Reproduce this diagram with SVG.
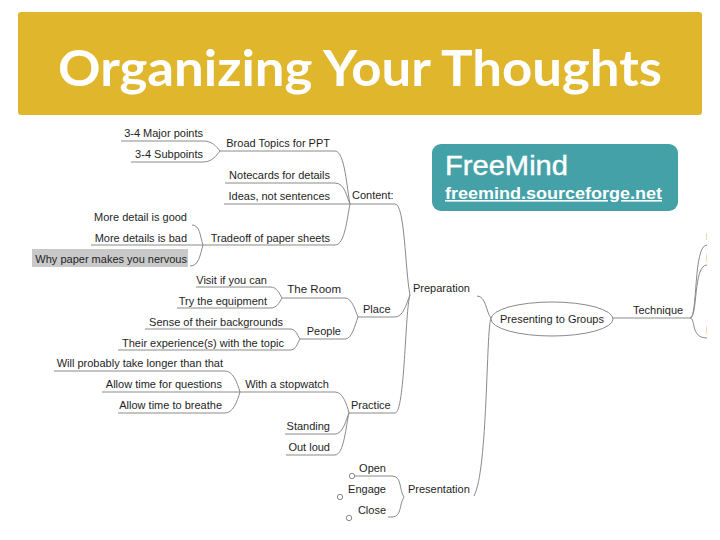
<svg xmlns="http://www.w3.org/2000/svg" width="720" height="540" viewBox="0 0 720 540">
<style>
text{font-family:"Liberation Sans",Arial,sans-serif;font-size:11px;fill:#1e1e1e}
.r{text-anchor:end}
.c{fill:none;stroke:#8a8a8a;stroke-width:1}
.d{fill:#fff;stroke:#8a8a8a;stroke-width:1}
.m{fill:#f3dcb0}
</style>
<rect width="720" height="540" fill="#fff"/>
<g id="title"><rect x="18" y="12" width="684" height="103" rx="3" fill="#dfb62c"/>
<text x="360" y="86" text-anchor="middle" style="font-family:Lato,'Open Sans',sans-serif;font-size:50px;font-weight:700;fill:#fff" textLength="604" lengthAdjust="spacingAndGlyphs">Organizing Your Thoughts</text></g>
<g id="callout"><rect x="432" y="144" width="246" height="67" rx="9" fill="#45a1a8"/>
<text x="445" y="175" style="font-size:27px;fill:#fff;stroke:#fff;stroke-width:.4" textLength="123" lengthAdjust="spacingAndGlyphs">FreeMind</text>
<text x="445" y="199" style="font-size:16px;font-weight:700;fill:#fff;text-decoration:underline" textLength="217" lengthAdjust="spacingAndGlyphs">freemind.sourceforge.net</text></g>
<g id="connectors">
<path class="c" d="M121 141H203C212 141 216 146 220 151C216 156 212 162 203 162H131"/>
<path class="c" d="M220 151H335C345 151 347 190 350 204C347 218 345 245 335 245H203"/>
<path class="c" d="M225 183H335C345 183 347 198 350 204H224"/>
<path class="c" d="M192 225C200 225 200 236 203 245C200 255 199 266 190 266"/>
<path class="c" d="M91 245H203"/>
<path class="c" d="M350 204H395C405 204 405 270 410 295C405 310 405 413 395 413H349"/>
<path class="c" d="M196 287H270C277 287 279 293 282 298C279 303 277 308 270 308H177"/>
<path class="c" d="M282 298H345C352 298 355 310 358 317C355 325 352 339 345 339H300"/>
<path class="c" d="M145 329H290C296 329 297 335 300 339C297 344 296 350 290 350H118"/>
<path class="c" d="M358 317H395C403 317 406 305 410 295"/>
<path class="c" d="M54 371H225C233 371 237 382 240 392C237 402 233 413 225 413H118"/>
<path class="c" d="M102 392H335C343 392 347 405 349 413"/>
<path class="c" d="M285 434H335C343 434 346 420 349 413C346 425 344 455 335 455H286"/>
<path class="c" d="M352 476H392C402 476 399 490 404 497C399 504 402 517 392 517H388"/>
<path class="c" d="M477 296C486 296 486 312 491 318C486 330 488 470 474 496"/>
<path class="c" d="M612 318H690C698 318 693 245 707 245"/>
<path class="c" d="M690 318C698 318 693 265 707 265"/>
<path class="c" d="M690 318C696 318 690 338 707 338"/>
</g>
<g id="n-major"><text class="r" x="203" y="137">3-4 Major points</text></g>
<g id="n-sub"><text class="r" x="203" y="158">3-4 Subpoints</text></g>
<g id="n-broad"><text class="r" x="330" y="147">Broad Topics for PPT</text></g>
<g id="n-note"><text class="r" x="330" y="179">Notecards for details</text></g>
<g id="n-ideas"><text class="r" x="330" y="200">Ideas, not sentences</text></g>
<g id="n-content"><text x="352" y="199">Content:</text></g>
<g id="n-good"><text class="r" x="187" y="221">More detail is good</text></g>
<g id="n-bad"><text class="r" x="187" y="242">More details is bad</text></g>
<g id="n-why"><rect x="32" y="249" width="156" height="18" fill="#c9c9c9"/><text class="r" x="187" y="263">Why paper makes you nervous</text></g>
<g id="n-trade"><text class="r" x="330" y="242">Tradeoff of paper sheets</text></g>
<g id="n-visit"><text class="r" x="267" y="284">Visit if you can</text></g>
<g id="n-try"><text class="r" x="267" y="305">Try the equipment</text></g>
<g id="n-room"><text class="r" x="341" y="293" style="font-size:11.5px">The Room</text></g>
<g id="n-sense"><text class="r" x="283" y="326">Sense of their backgrounds</text></g>
<g id="n-exp"><text class="r" x="284" y="347">Their experience(s) with the topic</text></g>
<g id="n-people"><text class="r" x="341" y="335">People</text></g>
<g id="n-place"><text x="363" y="313">Place</text></g>
<g id="n-will"><text class="r" x="223" y="367">Will probably take longer than that</text></g>
<g id="n-aq"><text class="r" x="222" y="388">Allow time for questions</text></g>
<g id="n-ab"><text class="r" x="222" y="409">Allow time to breathe</text></g>
<g id="n-watch"><text class="r" x="329" y="388">With a stopwatch</text></g>
<g id="n-practice"><text x="351" y="409">Practice</text></g>
<g id="n-stand"><text class="r" x="330" y="430">Standing</text></g>
<g id="n-loud"><text class="r" x="330" y="451">Out loud</text></g>
<g id="n-open"><text class="r" x="386" y="472">Open</text><circle class="d" cx="352" cy="476" r="2.7"/></g>
<g id="n-engage"><text class="r" x="386" y="493">Engage</text><circle class="d" cx="340" cy="497" r="2.7"/></g>
<g id="n-close"><text class="r" x="386" y="514">Close</text><circle class="d" cx="349" cy="518" r="2.7"/></g>
<g id="n-pres"><text x="408" y="493">Presentation</text></g>
<g id="n-prep"><text x="413" y="292">Preparation</text></g>
<g id="n-root"><ellipse cx="552" cy="319" rx="61" ry="17" fill="#fff" stroke="#8a8a8a"/><text x="552" y="323" text-anchor="middle">Presenting to Groups</text></g>
<g id="n-tech"><text x="633" y="314">Technique</text></g>
<g id="edge-marks"><rect class="m" x="706" y="233" width="1" height="7"/><rect class="m" x="706" y="254" width="1" height="8"/><rect class="m" x="706" y="326" width="1" height="8"/></g>
</svg>
